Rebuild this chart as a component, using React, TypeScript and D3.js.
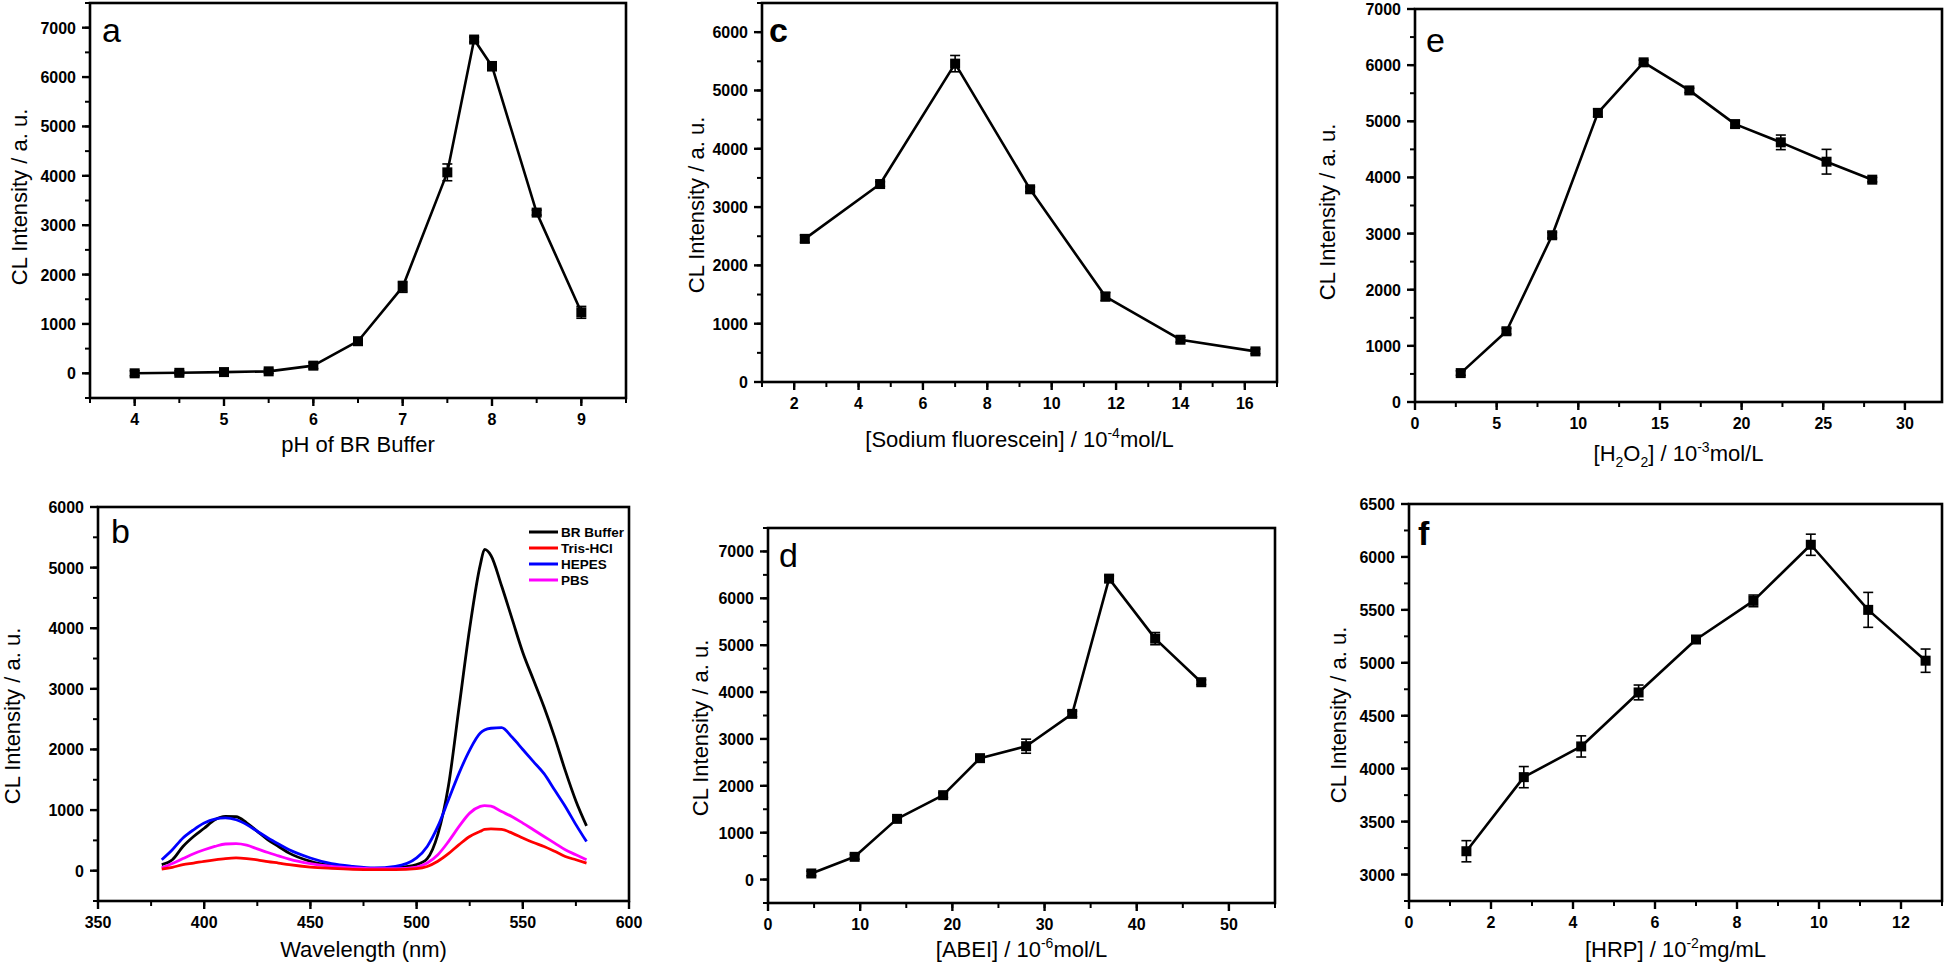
import React from 'react';
import * as d3 from 'd3';

const W = 1946, H = 967;
const FONT = "'Liberation Sans', Arial, sans-serif";

// (a) pH of BR buffer
const phValues = [4, 4.5, 5, 5.5, 6, 6.5, 7, 7.5, 7.8, 8, 8.5, 9];
const phIntensity = [0, 10, 25, 40, 155, 650, 1750, 4070, 6760, 6220, 3255, 1235];
const phError = [50, 40, 40, 40, 60, 60, 110, 170, 50, 90, 50, 120];
const phTicks = [4, 5, 6, 7, 8, 9];

// (b) spectra in different buffers
const wavelength = [380, 385, 390, 395, 400, 405, 410, 415, 420, 425, 430, 435, 440, 450, 460, 470, 480, 490, 500, 505, 510, 515, 520, 525, 530, 532, 535, 540, 545, 550, 555, 560, 565, 570, 575, 580];
const brBuffer = [100, 180, 400, 565, 700, 840, 895, 890, 790, 650, 510, 400, 290, 155, 82, 45, 30, 45, 100, 200, 600, 1400, 2700, 4000, 5050, 5300, 5200, 4700, 4150, 3600, 3150, 2700, 2200, 1650, 1150, 740];
const trisHcl = [27, 55, 100, 126, 155, 180, 200, 210, 200, 180, 150, 126, 100, 60, 38, 22, 16, 16, 33, 70, 155, 280, 430, 565, 650, 680, 690, 680, 620, 540, 465, 400, 320, 235, 180, 125];
const hepes = [180, 345, 540, 675, 785, 850, 870, 840, 760, 650, 540, 440, 345, 210, 115, 70, 45, 70, 210, 400, 730, 1170, 1610, 1990, 2270, 2320, 2350, 2360, 2200, 2000, 1800, 1600, 1330, 1060, 760, 480];
const pbs = [45, 120, 200, 280, 345, 400, 440, 445, 420, 360, 300, 245, 190, 115, 70, 45, 33, 33, 60, 126, 263, 480, 730, 950, 1060, 1075, 1065, 975, 890, 785, 675, 565, 455, 345, 263, 180];
const bufferNames = ['BR Buffer', 'Tris-HCl', 'HEPES', 'PBS'];
const bufferColors = ['#000000', '#ff0000', '#0000ff', '#ff00ff'];
const wavelengthTicks = [350, 400, 450, 500, 550, 600];

// (c) sodium fluorescein
const fluoresceinConc = [2.33, 4.67, 7, 9.33, 11.67, 14, 16.33];
const fluoresceinIntensity = [2455, 3395, 5460, 3305, 1465, 725, 525];
const fluoresceinError = [60, 40, 140, 40, 70, 40, 40];
const fluoresceinTicks = [2, 4, 6, 8, 10, 12, 14, 16];

// (d) ABEI
const abeiConc = [4.7, 9.4, 14, 19, 23, 28, 33, 37, 42, 47];
const abeiIntensity = [130, 485, 1295, 1800, 2590, 2845, 3535, 6420, 5140, 4210];
const abeiError = [50, 50, 50, 50, 50, 150, 60, 60, 130, 50];
const abeiTicks = [0, 10, 20, 30, 40, 50];

// (e) H2O2
const h2o2Conc = [2.8, 5.6, 8.4, 11.2, 14, 16.8, 19.6, 22.4, 25.2, 28];
const h2o2Intensity = [515, 1260, 2970, 5150, 6050, 5550, 4950, 4625, 4280, 3960];
const h2o2Error = [40, 50, 50, 70, 40, 40, 60, 130, 220, 40];
const h2o2Ticks = [0, 5, 10, 15, 20, 25, 30];

// (f) HRP
const hrpConc = [1.4, 2.8, 4.2, 5.6, 7, 8.4, 9.8, 11.2, 12.6];
const hrpIntensity = [3220, 3920, 4210, 4720, 5220, 5585, 6115, 5500, 5020];
const hrpError = [100, 100, 100, 70, 30, 55, 100, 165, 110];
const hrpTicks = [0, 2, 4, 6, 8, 10, 12];

const intensityTicks7000 = [0, 1000, 2000, 3000, 4000, 5000, 6000, 7000];
const intensityTicks6000 = [0, 1000, 2000, 3000, 4000, 5000, 6000];
const hrpIntensityTicks = [3000, 3500, 4000, 4500, 5000, 5500, 6000, 6500];

type Spec = {
  left: number; right: number; top: number; bottom: number;
  xDomain: [number, number]; yDomain: [number, number];
  xTicks: number[]; xMinor: number; yTicks: number[]; yMinor: number;
  letter: string; letterX: number; letterY: number; letterBold?: boolean;
  xTitle: React.ReactNode; xTitleY: number; yTitleX: number; yTitleY: number;
};

function Panel({ spec, children }: { spec: Spec; children: (x: any, y: any) => React.ReactNode }) {
  const x = d3.scaleLinear().domain(spec.xDomain).range([spec.left, spec.right]);
  const y = d3.scaleLinear().domain(spec.yDomain).range([spec.bottom, spec.top]);
  const xMinor = d3.range(spec.xDomain[0], spec.xDomain[1] + 1e-9, spec.xMinor);
  const yMinor = d3.range(spec.yDomain[0], spec.yDomain[1] + 1e-9, spec.yMinor);
  return (
    <g>
      {children(x, y)}
      <rect x={spec.left} y={spec.top} width={spec.right - spec.left} height={spec.bottom - spec.top}
        fill="none" stroke="#000" strokeWidth={2.6} />
      {xMinor.map((v, i) => (
        <line key={'xm' + i} x1={x(v)} x2={x(v)} y1={spec.bottom} y2={spec.bottom + 5} stroke="#000" strokeWidth={2} />
      ))}
      {yMinor.map((v, i) => (
        <line key={'ym' + i} x1={spec.left - 5} x2={spec.left} y1={y(v)} y2={y(v)} stroke="#000" strokeWidth={2} />
      ))}
      {spec.xTicks.map((v) => (
        <g key={'xt' + v}>
          <line x1={x(v)} x2={x(v)} y1={spec.bottom} y2={spec.bottom + 8} stroke="#000" strokeWidth={2.4} />
          <text x={x(v)} y={spec.bottom + 27} textAnchor="middle" fontSize={16} fontWeight="bold">{v}</text>
        </g>
      ))}
      {spec.yTicks.map((v) => (
        <g key={'yt' + v}>
          <line x1={spec.left - 8} x2={spec.left} y1={y(v)} y2={y(v)} stroke="#000" strokeWidth={2.4} />
          <text x={spec.left - 14} y={y(v) + 6} textAnchor="end" fontSize={16} fontWeight="bold">{v}</text>
        </g>
      ))}
      <text x={spec.letterX} y={spec.letterY} fontSize={34} fontWeight={spec.letterBold ? 'bold' : 'normal'}>{spec.letter}</text>
      <text x={(spec.left + spec.right) / 2} y={spec.xTitleY} textAnchor="middle" fontSize={22}>{spec.xTitle}</text>
      <text transform={`translate(${spec.yTitleX},${spec.yTitleY}) rotate(-90)`} textAnchor="middle" dominantBaseline="central" fontSize={22}>
        CL Intensity / a. u.
      </text>
    </g>
  );
}

function PointSeries({ xs, ys, errs, x, y }: { xs: number[]; ys: number[]; errs: number[]; x: any; y: any }) {
  const pts = xs.map((v, i) => [v, ys[i]] as [number, number]);
  const line = d3.line<[number, number]>().x((d) => x(d[0])).y((d) => y(d[1]));
  return (
    <g>
      <path d={line(pts) || ''} fill="none" stroke="#000" strokeWidth={2.6} strokeLinejoin="round" />
      {pts.map((d, i) => (
        <g key={i}>
          <line x1={x(d[0])} x2={x(d[0])} y1={y(d[1] - errs[i])} y2={y(d[1] + errs[i])} stroke="#000" strokeWidth={1.6} />
          <line x1={x(d[0]) - 5} x2={x(d[0]) + 5} y1={y(d[1] - errs[i])} y2={y(d[1] - errs[i])} stroke="#000" strokeWidth={1.6} />
          <line x1={x(d[0]) - 5} x2={x(d[0]) + 5} y1={y(d[1] + errs[i])} y2={y(d[1] + errs[i])} stroke="#000" strokeWidth={1.6} />
          <rect x={x(d[0]) - 5} y={y(d[1]) - 5} width={10} height={10} fill="#000" />
        </g>
      ))}
    </g>
  );
}

const sup = (t: string) => <tspan dy={-9} fontSize={14}>{t}</tspan>;

export default function App() {
  const specA: Spec = {
    left: 90, right: 626, top: 3, bottom: 398, xDomain: [3.5, 9.5], yDomain: [-500, 7500],
    xTicks: phTicks, xMinor: 0.5, yTicks: intensityTicks7000, yMinor: 500,
    letter: 'a', letterX: 102, letterY: 42, xTitle: 'pH of BR Buffer', xTitleY: 452, yTitleX: 19, yTitleY: 197,
  };
  const specC: Spec = {
    left: 762, right: 1277, top: 3, bottom: 382, xDomain: [1, 17], yDomain: [0, 6500],
    xTicks: fluoresceinTicks, xMinor: 1, yTicks: intensityTicks6000, yMinor: 500,
    letter: 'c', letterX: 769, letterY: 42, letterBold: true,
    xTitle: <>[Sodium fluorescein] / 10{sup('-4')}<tspan dy={9}>mol/L</tspan></>, xTitleY: 447, yTitleX: 696, yTitleY: 205,
  };
  const specE: Spec = {
    left: 1415, right: 1942, top: 9, bottom: 402, xDomain: [0, 32.27], yDomain: [0, 7000],
    xTicks: h2o2Ticks, xMinor: 2.5, yTicks: intensityTicks7000, yMinor: 500,
    letter: 'e', letterX: 1426, letterY: 52,
    xTitle: <>[H<tspan dy={6} fontSize={14}>2</tspan><tspan dy={-6}>O</tspan><tspan dy={6} fontSize={14}>2</tspan><tspan dy={-6}>] / 10</tspan>{sup('-3')}<tspan dy={9}>mol/L</tspan></>,
    xTitleY: 461, yTitleX: 1327, yTitleY: 212,
  };
  const specB: Spec = {
    left: 98, right: 629, top: 507, bottom: 901, xDomain: [350, 600], yDomain: [-500, 6000],
    xTicks: wavelengthTicks, xMinor: 25, yTicks: intensityTicks6000, yMinor: 500,
    letter: 'b', letterX: 111, letterY: 543, xTitle: 'Wavelength (nm)', xTitleY: 957, yTitleX: 12, yTitleY: 716,
  };
  const specD: Spec = {
    left: 768, right: 1275, top: 528, bottom: 903, xDomain: [0, 55], yDomain: [-500, 7500],
    xTicks: abeiTicks, xMinor: 5, yTicks: intensityTicks7000, yMinor: 500,
    letter: 'd', letterX: 779, letterY: 567,
    xTitle: <>[ABEI] / 10{sup('-6')}<tspan dy={9}>mol/L</tspan></>, xTitleY: 957, yTitleX: 700, yTitleY: 728,
  };
  const specF: Spec = {
    left: 1409, right: 1942, top: 504, bottom: 901, xDomain: [0, 13], yDomain: [2750, 6500],
    xTicks: hrpTicks, xMinor: 1, yTicks: hrpIntensityTicks, yMinor: 250,
    letter: 'f', letterX: 1418, letterY: 545, letterBold: true,
    xTitle: <>[HRP] / 10{sup('-2')}<tspan dy={9}>mg/mL</tspan></>, xTitleY: 957, yTitleX: 1338, yTitleY: 715,
  };
  const spectra = [brBuffer, trisHcl, hepes, pbs];

  return (
    <svg width={W} height={H} style={{ position: 'absolute', left: 0, top: 0, background: '#fff' }}
      fontFamily={FONT} fill="#000">
      <Panel spec={specA}>{(x, y) => <PointSeries xs={phValues} ys={phIntensity} errs={phError} x={x} y={y} />}</Panel>
      <Panel spec={specC}>{(x, y) => <PointSeries xs={fluoresceinConc} ys={fluoresceinIntensity} errs={fluoresceinError} x={x} y={y} />}</Panel>
      <Panel spec={specE}>{(x, y) => <PointSeries xs={h2o2Conc} ys={h2o2Intensity} errs={h2o2Error} x={x} y={y} />}</Panel>
      <Panel spec={specD}>{(x, y) => <PointSeries xs={abeiConc} ys={abeiIntensity} errs={abeiError} x={x} y={y} />}</Panel>
      <Panel spec={specF}>{(x, y) => <PointSeries xs={hrpConc} ys={hrpIntensity} errs={hrpError} x={x} y={y} />}</Panel>
      <Panel spec={specB}>
        {(x, y) => {
          const line = d3.line<number>().x((_, i) => x(wavelength[i])).y((d) => y(d)).curve(d3.curveMonotoneX);
          const order = [0, 2, 3, 1];
          return (
            <g>
              {order.map((k) => (
                <path key={k} d={line(spectra[k]) || ''} fill="none" stroke={bufferColors[k]} strokeWidth={2.8} />
              ))}
              {bufferNames.map((name, i) => (
                <g key={name}>
                  <line x1={529} x2={558} y1={532 + i * 16} y2={532 + i * 16} stroke={bufferColors[i]} strokeWidth={3} />
                  <text x={561} y={537 + i * 16} fontSize={13.5} fontWeight="bold">{name}</text>
                </g>
              ))}
            </g>
          );
        }}
      </Panel>
    </svg>
  );
}
